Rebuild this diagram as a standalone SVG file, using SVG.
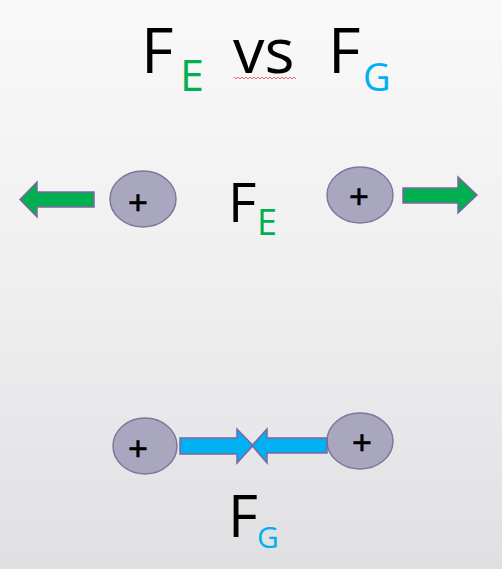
<svg xmlns="http://www.w3.org/2000/svg" width="502" height="569" viewBox="0 0 502 569">
<defs>
<linearGradient id="bg" x1="0" y1="0" x2="0" y2="1">
<stop offset="0" stop-color="#f9f9f9"/>
<stop offset="0.5" stop-color="#efeff0"/>
<stop offset="1" stop-color="#e0dfe2"/>
</linearGradient>
<style>
.t{font-family:"Open Sans","Liberation Sans",sans-serif;fill:#000}
.g{fill:#00B050}
.b{fill:#00B0F0}
.ch{fill:#A9A6BF;stroke:#7D7799;stroke-width:1.5}
.pl{font-family:"Liberation Sans",sans-serif;font-size:34px;text-anchor:middle;fill:#000;stroke:#000;stroke-width:0.6}
.ag{fill:#00B050;stroke:#8064A2;stroke-width:1.5}
.ab{fill:#00B0F0;stroke:#8064A2;stroke-width:1.5}
</style>
</defs>
<rect width="502" height="569" fill="url(#bg)"/>
<g id="title">
<text class="t" x="141" y="73" font-size="63">F</text>
<text class="t g" x="180" y="91" font-size="43">E</text>
<text class="t" x="233" y="73" font-size="63">vs</text>
<text class="t" x="328" y="73" font-size="63">F</text>
<text class="t b" x="363" y="91" font-size="38">G</text>
<path d="M234 77 l2 2 l2 -2 l2 2 l2 -2 l2 2 l2 -2 l2 2 l2 -2 l2 2 l2 -2 l2 2 l2 -2 l2 2 l2 -2 l2 2 l2 -2 l2 2 l2 -2 l2 2 l2 -2 l2 2 l2 -2 l2 2 l2 -2 l2 2 l2 -2 l2 2 l2 -2 l2 2 l2 -2 l2 2" fill="none" stroke="#e04040" stroke-width="0.8"/>
</g>
<g id="fe-label">
<text class="t" x="228" y="222" font-size="55">F</text>
<text class="t g" x="257" y="235" font-size="36">E</text>
</g>
<g id="fg-label">
<text class="t" x="228" y="537" font-size="58">F</text>
<text class="t b" x="257" y="548" font-size="30">G</text>
</g>
<g id="charge-top-left">
<ellipse class="ch" cx="143" cy="199" rx="33" ry="28"/>
<text class="pl" x="138" y="214">+</text>
</g>
<g id="charge-top-right">
<ellipse class="ch" cx="360" cy="195" rx="33" ry="28"/>
<text class="pl" x="359" y="208">+</text>
</g>
<g id="charge-bottom-left">
<ellipse class="ch" cx="145" cy="446" rx="32" ry="28"/>
<text class="pl" x="138" y="460">+</text>
</g>
<g id="charge-bottom-right">
<ellipse class="ch" cx="360" cy="441" rx="33" ry="28"/>
<text class="pl" x="362" y="454">+</text>
</g>
<g id="connectors">
<path class="ag" d="M94 192 L37 192 L37 182 L20 199.5 L37 217 L37 207 L94 207 Z"/>
<path class="ag" d="M403 188 L458 188 L458 177 L477 195 L458 213 L458 203 L403 203 Z"/>
<path class="ab" d="M180 438 L237 438 L237 429 L253 445.5 L237 463 L237 454 L180 454 Z"/>
<path class="ab" d="M327 438 L267 438 L267 429 L252 445.5 L267 463 L267 453 L327 453 Z"/>
</g>
</svg>
